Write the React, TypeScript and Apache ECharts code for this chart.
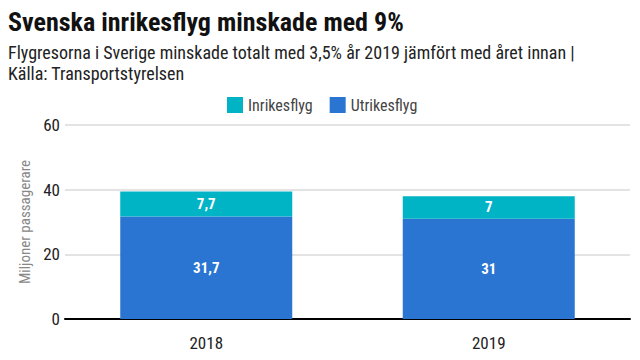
import React, { useEffect, useRef } from "react";
import * as echarts from "echarts";

const categories = ["2018", "2019"];
const inrikes = [7.7, 7];
const utrikes = [31.7, 31];
const yTicks = [0, 20, 40, 60];

const FONT = "'Roboto Condensed', 'DejaVu Sans Condensed', sans-serif";
const fmt = (v: number) => String(v).replace(".", ",");

export default function App() {
  const ref = useRef<HTMLDivElement>(null);
  useEffect(() => {
    document.body.style.margin = "0";
    const chart = echarts.init(ref.current!, null, { renderer: "svg" });
    const label = {
      show: true,
      position: "inside",
      color: "#fff",
      fontWeight: "bold",
      fontSize: 15,
      fontFamily: FONT,
      formatter: (p: any) => fmt(p.value),
    };
    chart.setOption({
      animation: false,
      backgroundColor: "#ffffff",
      textStyle: { fontFamily: FONT },
      title: {
        text: "Svenska inrikesflyg minskade med 9%",
        subtext: "Flygresorna i Sverige minskade totalt med 3,5% år 2019 jämfört med året innan |\nKälla: Transportstyrelsen",
        left: 3,
        top: 4,
        itemGap: 7,
        textStyle: { fontFamily: FONT, fontSize: 26, fontWeight: "bold", color: "#111" },
        subtextStyle: { fontFamily: FONT, fontSize: 18, color: "#222", lineHeight: 21 },
      },
      legend: {
        top: 92,
        left: 222,
        itemWidth: 16,
        itemHeight: 16,
        itemGap: 17,
        icon: "rect",
        textStyle: { fontFamily: FONT, fontSize: 16, color: "#444" },
        data: ["Inrikesflyg", "Utrikesflyg"],
      },
      grid: { left: 65, right: 10, top: 125, bottom: 41, containLabel: false },
      xAxis: {
        type: "category",
        data: categories,
        axisLine: { lineStyle: { color: "#000", width: 2 } },
        axisTick: { show: false },
        axisLabel: { fontFamily: FONT, fontSize: 17, color: "#222", margin: 15 },
      },
      yAxis: {
        type: "value",
        min: yTicks[0],
        max: yTicks[yTicks.length - 1],
        interval: 20,
        name: "Miljoner passagerare",
        nameLocation: "middle",
        nameGap: 33,
        nameTextStyle: { fontFamily: FONT, fontSize: 15, color: "#888" },
        axisLabel: { fontFamily: FONT, fontSize: 17, color: "#222", margin: 5 },
        splitLine: { lineStyle: { color: "#e3e3e3", width: 2 } },
        axisLine: { show: false },
        axisTick: { show: false },
      },
      series: [
        {
          name: "Utrikesflyg",
          type: "bar",
          stack: "a",
          data: utrikes,
          barWidth: 172,
          itemStyle: { color: "#2a75d1" },
          label,
        },
        {
          name: "Inrikesflyg",
          type: "bar",
          stack: "a",
          data: inrikes,
          barWidth: 172,
          itemStyle: { color: "#00b3c5" },
          label,
        },
      ],
    });
    return () => chart.dispose();
  }, []);
  return <div ref={ref} style={{ width: 640, height: 360 }} />;
}
